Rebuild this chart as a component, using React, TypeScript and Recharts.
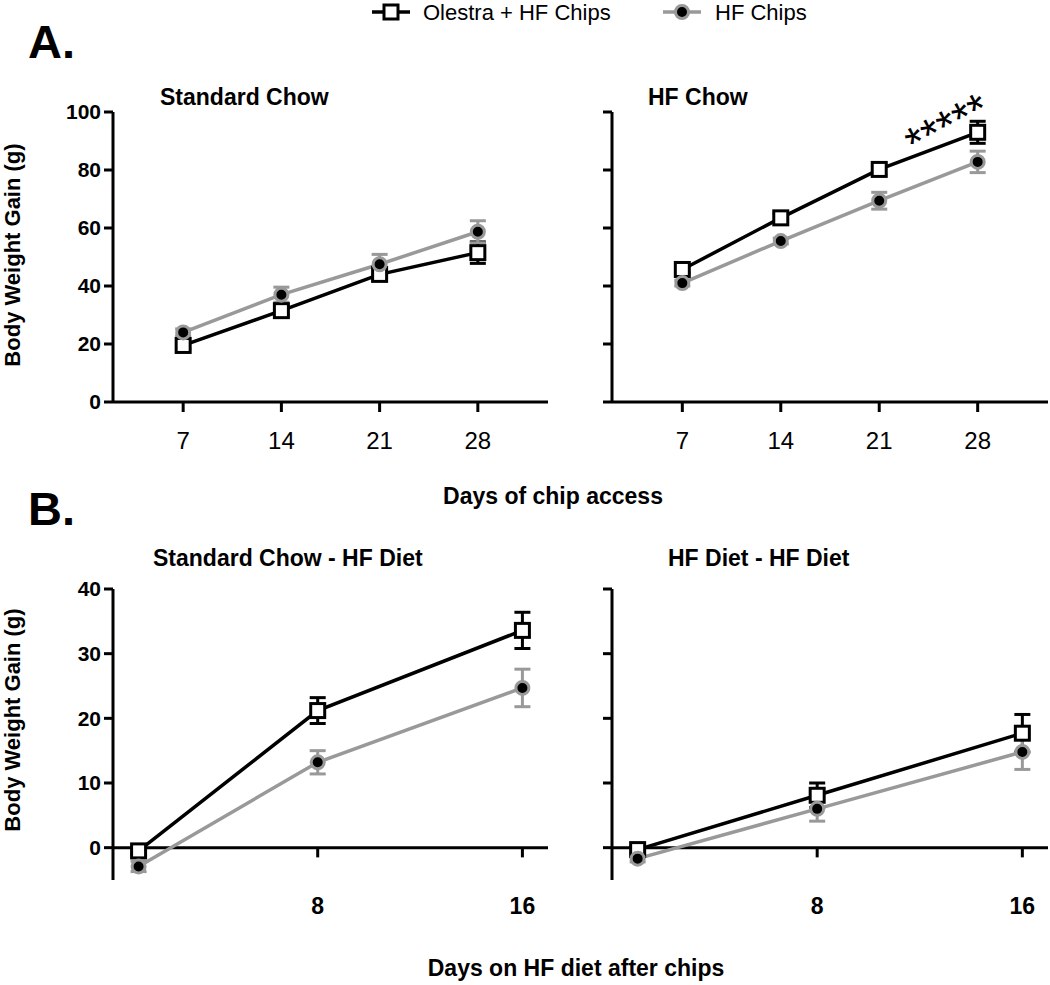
import React from "react";
import { LineChart, Line, XAxis, YAxis, ErrorBar, ReferenceLine } from "recharts";

// A. days of chip access
const daysA = [7, 14, 21, 28];
const stdOlestra = [19.5, 31.5, 44, 51.5];
const stdOlestraErr = [1.2, 1.5, 2, 3.7];
const stdHF = [24, 37, 47.5, 58.7];
const stdHFErr = [1.2, 2.6, 3.4, 3.8];
const hfOlestra = [45.7, 63.5, 80.2, 93];
const hfOlestraErr = [1.2, 1.5, 2, 3.8];
const hfHF = [41, 55.5, 69.4, 82.8];
const hfHFErr = [1, 1, 2.9, 3.7];

// B. days on HF diet after chips
const daysB = [1, 8, 16];
const sbOlestra = [-0.5, 21.2, 33.6];
const sbOlestraErr = [0.5, 2, 2.8];
const sbHF = [-2.9, 13.2, 24.7];
const sbHFErr = [0.8, 1.8, 2.9];
const hbOlestra = [-0.3, 8.1, 17.7];
const hbOlestraErr = [0.5, 1.9, 2.9];
const hbHF = [-1.7, 6.0, 14.8];
const hbHFErr = [0.5, 1.9, 2.7];

const ticksA = [7, 14, 21, 28];
const yTicksA = [0, 20, 40, 60, 80, 100];
const ticksB = [8, 16];
const yTicksB = [0, 10, 20, 30, 40];

const GRAY = "#999999";
const FONT = "'Liberation Sans', Arial, Helvetica, sans-serif";

const build = (days: number[], ol: number[], olErr: number[], hf: number[], hfErr: number[]) =>
  days.map((d, i) => ({ day: d, ol: ol[i], olErr: olErr[i], hf: hf[i], hfErr: hfErr[i] }));

const SquareDot = (props: any) => {
  const { cx, cy, index } = props;
  if (cx == null || cy == null) return <g key={index} />;
  return (
    <rect key={index} x={cx - 7} y={cy - 7} width={14} height={14} fill="#fff" stroke="#000" strokeWidth={3} />
  );
};

const CircleDot = (props: any) => {
  const { cx, cy, index } = props;
  if (cx == null || cy == null) return <g key={index} />;
  return <circle key={index} cx={cx} cy={cy} r={6.5} fill="#000" stroke={GRAY} strokeWidth={3} />;
};

type PanelProps = {
  data: any[];
  left: number;
  top: number;
  width: number;
  height: number;
  marginTop: number;
  marginRight: number;
  yWidth: number;
  xDomain: [number, number];
  xTicks: number[];
  yDomain: [number, number];
  yTicks: number[];
  showYLabels: boolean;
  partB?: boolean;
};

const Panel = (p: PanelProps) => {
  const axisTick = { fill: "#000", fontSize: 21, fontWeight: "bold", fontFamily: FONT };
  return (
    <div style={{ position: "absolute", left: p.left, top: p.top }}>
      <LineChart
        width={p.width}
        height={p.height}
        data={p.data}
        margin={{ top: p.marginTop, right: p.marginRight, bottom: 0, left: 0 }}
      >
        {p.partB ? (
          <XAxis
            dataKey="day"
            type="number"
            domain={p.xDomain}
            ticks={p.xTicks}
            interval={0}
            allowDataOverflow
            axisLine={false}
            tickLine={false}
            tickSize={0}
            tickMargin={18}
            height={50}
            tick={{ fill: "#000", fontSize: 23, fontWeight: "bold", fontFamily: FONT }}
          />
        ) : (
          <XAxis
            dataKey="day"
            type="number"
            domain={p.xDomain}
            ticks={p.xTicks}
            interval={0}
            allowDataOverflow
            axisLine={{ stroke: "#000", strokeWidth: 3 }}
            tickLine={{ stroke: "#000", strokeWidth: 3 }}
            tickSize={10}
            tickMargin={20}
            height={60}
            tick={{ fill: "#000", fontSize: 24, fontFamily: FONT }}
          />
        )}
        <YAxis
          type="number"
          domain={p.yDomain}
          ticks={p.yTicks}
          interval={0}
          width={p.yWidth}
          allowDataOverflow
          axisLine={{ stroke: "#000", strokeWidth: 3 }}
          tickLine={{ stroke: "#000", strokeWidth: 3 }}
          tickSize={9}
          tickMargin={3}
          tick={axisTick}
          tickFormatter={(v: number) => (p.showYLabels ? String(v) : "")}
        />
        {p.partB && <ReferenceLine y={0} stroke="#000" strokeWidth={3} />}
        {p.partB &&
          p.xTicks.map((t) => (
            <ReferenceLine
              key={t}
              segment={[
                { x: t, y: 0 },
                { x: t, y: -1.5 },
              ]}
              stroke="#000"
              strokeWidth={3}
            />
          ))}
        <Line
          dataKey="ol"
          stroke="#000"
          strokeWidth={3.5}
          dot={SquareDot}
          activeDot={false}
          isAnimationActive={false}
        >
          <ErrorBar dataKey="olErr" direction="y" width={8} stroke="#000" strokeWidth={3} />
        </Line>
        <Line
          dataKey="hf"
          stroke={GRAY}
          strokeWidth={3.5}
          dot={CircleDot}
          activeDot={false}
          isAnimationActive={false}
        >
          <ErrorBar dataKey="hfErr" direction="y" width={8} stroke={GRAY} strokeWidth={3} />
        </Line>
      </LineChart>
    </div>
  );
};

const App = () => {
  const bold = { fontFamily: FONT, fontWeight: "bold" as const, fill: "#000" };
  return (
    <div style={{ position: "absolute", left: 0, top: 0, width: 1050, height: 985, background: "#fff" }}>
      <Panel
        data={build(daysA, stdOlestra, stdOlestraErr, stdHF, stdHFErr)}
        left={0}
        top={90}
        width={560}
        height={372}
        marginTop={22}
        marginRight={12}
        yWidth={113}
        xDomain={[2, 33]}
        xTicks={ticksA}
        yDomain={[0, 100]}
        yTicks={yTicksA}
        showYLabels
      />
      <Panel
        data={build(daysA, hfOlestra, hfOlestraErr, hfHF, hfHFErr)}
        left={500}
        top={90}
        width={550}
        height={372}
        marginTop={22}
        marginRight={2}
        yWidth={112}
        xDomain={[2, 33]}
        xTicks={ticksA}
        yDomain={[0, 100]}
        yTicks={yTicksA}
        showYLabels={false}
      />
      <Panel
        data={build(daysB, sbOlestra, sbOlestraErr, sbHF, sbHFErr)}
        left={0}
        top={565}
        width={560}
        height={365}
        marginTop={24}
        marginRight={12}
        yWidth={113}
        xDomain={[0, 17]}
        xTicks={ticksB}
        yDomain={[-5, 40]}
        yTicks={yTicksB}
        showYLabels
        partB
      />
      <Panel
        data={build(daysB, hbOlestra, hbOlestraErr, hbHF, hbHFErr)}
        left={500}
        top={565}
        width={550}
        height={365}
        marginTop={24}
        marginRight={2}
        yWidth={112}
        xDomain={[0, 17]}
        xTicks={ticksB}
        yDomain={[-5, 40]}
        yTicks={yTicksB}
        showYLabels={false}
        partB
      />
      <svg
        width={1050}
        height={985}
        style={{ position: "absolute", left: 0, top: 0, pointerEvents: "none" }}
      >
        {/* legend */}
        <line x1={372} y1={12} x2={410} y2={12} stroke="#000" strokeWidth={3.5} />
        <rect x={384} y={5} width={14} height={14} fill="#fff" stroke="#000" strokeWidth={3} />
        <text x={423} y={20} fontFamily={FONT} fontSize={22} fill="#000">
          Olestra + HF Chips
        </text>
        <line x1={663} y1={12} x2={701} y2={12} stroke={GRAY} strokeWidth={3.5} />
        <circle cx={682} cy={12} r={6.5} fill="#000" stroke={GRAY} strokeWidth={3} />
        <text x={715} y={20} fontFamily={FONT} fontSize={22} fill="#000">
          HF Chips
        </text>

        <text x={28} y={58} {...bold} fontSize={47}>
          A.
        </text>
        <text x={28} y={525} {...bold} fontSize={47}>
          B.
        </text>

        <text x={160} y={105} {...bold} fontSize={23}>
          Standard Chow
        </text>
        <text x={648} y={105} {...bold} fontSize={23}>
          HF Chow
        </text>
        <text x={153} y={566} {...bold} fontSize={23}>
          Standard Chow - HF Diet
        </text>
        <text x={668} y={566} {...bold} fontSize={23}>
          HF Diet - HF Diet
        </text>

        <text x={20} y={255} {...bold} fontSize={22} textAnchor="middle" transform="rotate(-90 20 255)">
          Body Weight Gain (g)
        </text>
        <text x={20} y={720} {...bold} fontSize={22} textAnchor="middle" transform="rotate(-90 20 720)">
          Body Weight Gain (g)
        </text>

        <text x={553} y={504} {...bold} fontSize={23} textAnchor="middle">
          Days of chip access
        </text>
        <text x={576} y={976} {...bold} fontSize={23} textAnchor="middle">
          Days on HF diet after chips
        </text>

        <text x={916} y={160} fontFamily={FONT} fontSize={45} fill="#000" transform="rotate(-28 916 160)">
          *****
        </text>
      </svg>
    </div>
  );
};

export default App;
